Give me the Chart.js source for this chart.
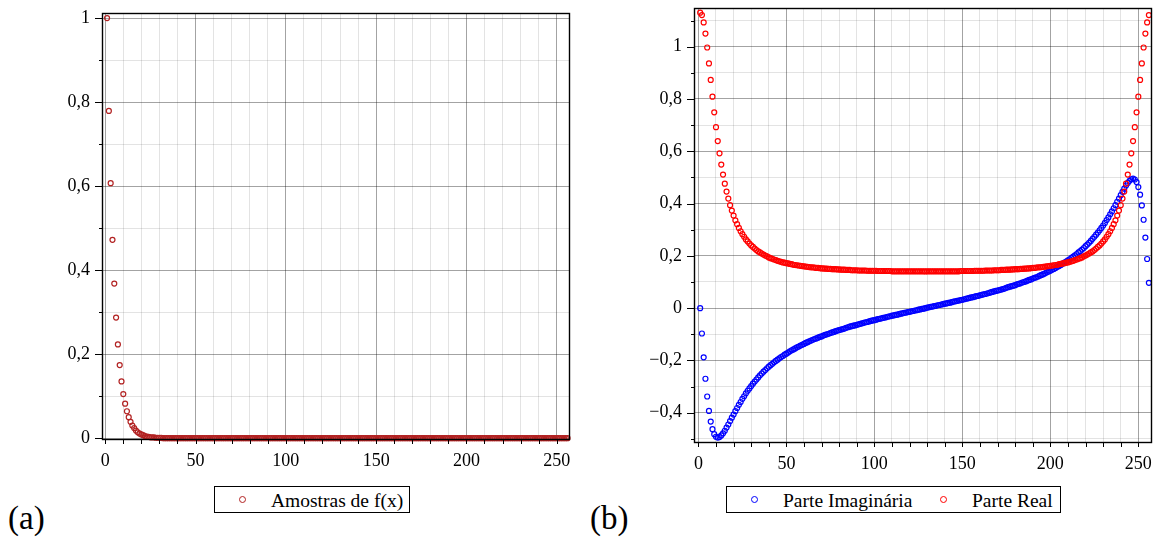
<!DOCTYPE html>
<html>
<head>
<meta charset="UTF-8">
<title>Amostras de f(x) e DFT</title>
<style>
  body { margin: 0; background: #fff; }
  .wrap { position: relative; width: 1155px; height: 539px; font-family: "Liberation Serif", serif; color: #000; }
  canvas { position: absolute; top: 0; }
  .legend { position: absolute; top: 486px; height: 27px; border: 1px solid #000; box-sizing: border-box; font-size: 19.5px; line-height: 27px; }
  .legend span { position: absolute; top: 0px; white-space: nowrap; }
  .legend i { position: absolute; top: 9px; width: 7px; height: 7px; border-radius: 50%; border: 1.2px solid; box-sizing: border-box; }
  .tag { position: absolute; top: 502px; font-size: 33px; line-height: 33px; }
</style>
<script src="https://cdn.jsdelivr.net/npm/chart.js"></script>
</head>
<body>
<div class="wrap">
  <canvas id="chartA" width="580" height="480" style="left:0"></canvas>
  <canvas id="chartB" width="575" height="480" style="left:580px"></canvas>

  <div class="legend" style="left:214px; width:196px">
    <i style="left:24px; border-color:#b22222"></i><span style="left:56px">Amostras de f(x)</span>
  </div>
  <div class="legend" style="left:726px; width:335px">
    <i style="left:24px; border-color:#0000ff"></i><span style="left:56px">Parte Imaginária</span>
    <i style="left:213px; border-color:#ff0000"></i><span style="left:245px">Parte Real</span>
  </div>
  <div class="tag" style="left:8px">(a)</div>
  <div class="tag" style="left:590px">(b)</div>
</div>

<script>
// ---- data ----
const N = 256;
// sample number 1..256
const sampleIdx = Array.from({length: N}, (_, i) => i + 1);

const amostras = [
  1.000, 0.779, 0.607, 0.472, 0.368, 0.287, 0.223, 0.174, 0.135, 0.105,
  0.082, 0.064, 0.050, 0.039, 0.030, 0.024, 0.018, 0.014, 0.011, 0.009,
  0.007, 0.005, 0.004, 0.003, 0.002, 0.002, 0.002, 0.001, 0.001, 0.001,
  0.001,
  0,0,0,0,0, 0,0,0,0,0, 0,0,0,0,0, 0,0,0,0,0, 0,0,0,0,0,
  0,0,0,0,0, 0,0,0,0,0, 0,0,0,0,0, 0,0,0,0,0, 0,0,0,0,0,
  0,0,0,0,0, 0,0,0,0,0, 0,0,0,0,0, 0,0,0,0,0, 0,0,0,0,0,
  0,0,0,0,0, 0,0,0,0,0, 0,0,0,0,0, 0,0,0,0,0, 0,0,0,0,0,
  0,0,0,0,0, 0,0,0,0,0, 0,0,0,0,0, 0,0,0,0,0, 0,0,0,0,0,
  0,0,0,0,0, 0,0,0,0,0, 0,0,0,0,0, 0,0,0,0,0, 0,0,0,0,0,
  0,0,0,0,0, 0,0,0,0,0, 0,0,0,0,0, 0,0,0,0,0, 0,0,0,0,0,
  0,0,0,0,0, 0,0,0,0,0, 0,0,0,0,0, 0,0,0,0,0, 0,0,0,0,0,
  0,0,0,0,0, 0,0,0,0,0, 0,0,0,0,0, 0,0,0,0,0, 0,0,0,0,0
];

const parteReal = [
  1.130, 1.121, 1.093, 1.050, 0.997, 0.936, 0.873, 0.809, 0.749, 0.692,
  0.639, 0.592, 0.549, 0.511, 0.476, 0.446, 0.419, 0.394, 0.373, 0.354,
  0.336, 0.321, 0.307, 0.294, 0.283, 0.273, 0.263, 0.255, 0.247, 0.240,
  0.234, 0.228, 0.222, 0.217, 0.213, 0.209, 0.205, 0.201, 0.198, 0.194,
  0.191, 0.189, 0.186, 0.184, 0.181, 0.179, 0.177, 0.175, 0.174, 0.172,
  0.171, 0.169, 0.168, 0.166, 0.165, 0.164, 0.163, 0.162, 0.161, 0.160,
  0.159, 0.158, 0.157, 0.156, 0.156, 0.155, 0.154, 0.154, 0.153, 0.152,
  0.152, 0.151, 0.151, 0.150, 0.150, 0.149, 0.149, 0.149, 0.148, 0.148,
  0.147, 0.147, 0.147, 0.146, 0.146, 0.146, 0.145, 0.145, 0.145, 0.145,
  0.144, 0.144, 0.144, 0.144, 0.144, 0.143, 0.143, 0.143, 0.143, 0.143,
  0.143, 0.142, 0.142, 0.142, 0.142, 0.142, 0.142, 0.142, 0.142, 0.141,
  0.141, 0.141, 0.141, 0.141, 0.141, 0.141, 0.141, 0.141, 0.141, 0.141,
  0.141, 0.141, 0.141, 0.141, 0.141, 0.141, 0.141, 0.141, 0.1405,
  0.141, 0.141, 0.141, 0.141, 0.141, 0.141, 0.141, 0.141, 0.141, 0.141,
  0.141, 0.141, 0.141, 0.141, 0.141, 0.141, 0.141, 0.141, 0.141, 0.142,
  0.142, 0.142, 0.142, 0.142, 0.142, 0.142, 0.142, 0.143, 0.143, 0.143,
  0.143, 0.143, 0.143, 0.144, 0.144, 0.144, 0.144, 0.144, 0.145, 0.145,
  0.145, 0.145, 0.146, 0.146, 0.146, 0.147, 0.147, 0.147, 0.148, 0.148,
  0.149, 0.149, 0.149, 0.150, 0.150, 0.151, 0.151, 0.152, 0.152, 0.153,
  0.154, 0.154, 0.155, 0.156, 0.156, 0.157, 0.158, 0.159, 0.160, 0.161,
  0.162, 0.163, 0.164, 0.165, 0.166, 0.168, 0.169, 0.171, 0.172, 0.174,
  0.175, 0.177, 0.179, 0.181, 0.184, 0.186, 0.189, 0.191, 0.194, 0.198,
  0.201, 0.205, 0.209, 0.213, 0.217, 0.222, 0.228, 0.234, 0.240, 0.247,
  0.255, 0.263, 0.273, 0.283, 0.294, 0.307, 0.321, 0.336, 0.354, 0.373,
  0.394, 0.419, 0.446, 0.476, 0.511, 0.549, 0.592, 0.639, 0.692, 0.749,
  0.809, 0.873, 0.936, 0.997, 1.050, 1.093, 1.121
];

const parteImag = [
  0, -0.097, -0.188, -0.270, -0.338, -0.393, -0.434, -0.463, -0.482, -0.492,
  -0.495, -0.493, -0.487, -0.479, -0.469, -0.457, -0.445, -0.432, -0.419, -0.407,
  -0.394, -0.382, -0.370, -0.359, -0.347, -0.337, -0.326, -0.316, -0.307, -0.298,
  -0.289, -0.281, -0.273, -0.265, -0.257, -0.250, -0.243, -0.237, -0.230, -0.224,
  -0.218, -0.213, -0.207, -0.202, -0.197, -0.192, -0.187, -0.183, -0.178, -0.174,
  -0.170, -0.165, -0.161, -0.158, -0.154, -0.150, -0.147, -0.143, -0.140, -0.137,
  -0.133, -0.130, -0.127, -0.124, -0.121, -0.118, -0.116, -0.113, -0.110, -0.108,
  -0.105, -0.102, -0.100, -0.098, -0.095, -0.093, -0.091, -0.088, -0.086, -0.084,
  -0.082, -0.080, -0.078, -0.075, -0.073, -0.071, -0.069, -0.067, -0.066, -0.064,
  -0.062, -0.060, -0.058, -0.056, -0.054, -0.053, -0.051, -0.049, -0.047, -0.046,
  -0.044, -0.042, -0.041, -0.039, -0.037, -0.036, -0.034, -0.032, -0.031, -0.029,
  -0.028, -0.026, -0.025, -0.023, -0.021, -0.020, -0.018, -0.017, -0.015, -0.014,
  -0.012, -0.011, -0.009, -0.008, -0.006, -0.005, -0.003, -0.002, 0,
  0.002, 0.003, 0.005, 0.006, 0.008, 0.009, 0.011, 0.012, 0.014, 0.015,
  0.017, 0.018, 0.020, 0.021, 0.023, 0.025, 0.026, 0.028, 0.029, 0.031,
  0.032, 0.034, 0.036, 0.037, 0.039, 0.041, 0.042, 0.044, 0.046, 0.047,
  0.049, 0.051, 0.053, 0.054, 0.056, 0.058, 0.060, 0.062, 0.064, 0.066,
  0.067, 0.069, 0.071, 0.073, 0.075, 0.078, 0.080, 0.082, 0.084, 0.086,
  0.088, 0.091, 0.093, 0.095, 0.098, 0.100, 0.102, 0.105, 0.108, 0.110,
  0.113, 0.116, 0.118, 0.121, 0.124, 0.127, 0.130, 0.133, 0.137, 0.140,
  0.143, 0.147, 0.150, 0.154, 0.158, 0.161, 0.165, 0.170, 0.174, 0.178,
  0.183, 0.187, 0.192, 0.197, 0.202, 0.207, 0.213, 0.218, 0.224, 0.230,
  0.237, 0.243, 0.250, 0.257, 0.265, 0.273, 0.281, 0.289, 0.298, 0.307,
  0.316, 0.326, 0.337, 0.347, 0.359, 0.370, 0.382, 0.394, 0.407, 0.419,
  0.432, 0.445, 0.457, 0.469, 0.479, 0.487, 0.493, 0.495, 0.492, 0.482,
  0.463, 0.434, 0.393, 0.338, 0.270, 0.188, 0.097
];

// ticks
const xTicks  = [0,10,20,30,40,50,60,70,80,90,100,110,120,130,140,150,160,170,180,190,200,210,220,230,240,250];
const xLabels = [0,50,100,150,200,250];
const yTicksA  = [0,0.1,0.2,0.3,0.4,0.5,0.6,0.7,0.8,0.9,1];
const yLabelsA = [0,0.2,0.4,0.6,0.8,1];
const yTicksB  = [-0.5,-0.4,-0.3,-0.2,-0.1,0,0.1,0.2,0.3,0.4,0.5,0.6,0.7,0.8,0.9,1,1.1];
const yLabelsB = [-0.4,-0.2,0,0.2,0.4,0.6,0.8,1];

// ---- helpers ----
const FONT = 'Liberation Serif, serif';
Chart.defaults.font.family = FONT;
Chart.defaults.color = '#000';
const MAJOR = 'rgba(0,0,0,0.36)';
const MINOR = 'rgba(0,0,0,0.11)';
const has = (arr, v) => arr.some(a => Math.abs(a - v) < 1e-6);

function fmt(v) {
  const s = String(Math.abs(Math.round(v * 10) / 10)).replace('.', ',');
  return (v < -1e-9 ? '\u2212' : '') + s;
}

function axis(min, max, ticks, labels, size, horizontal) {
  return {
    type: 'linear', min, max,
    afterBuildTicks: s => { s.ticks = ticks.map(v => ({value: v})); },
    afterFit: s => {
      if (horizontal) s.height = size; else s.width = size;
      // plot area is fixed by the layout padding, not by label overhang
      s.paddingTop = 0; s.paddingBottom = 0; s.paddingLeft = 0; s.paddingRight = 0;
    },
    grid: {
      color: c => has(labels, c.tick.value) ? MAJOR : MINOR,
      lineWidth: 1,
      drawTicks: false
    },
    border: { display: false },
    ticks: {
      autoSkip: false, maxRotation: 0, minRotation: 0,
      padding: horizontal ? 11 : 12,
      color: '#000',
      font: { family: FONT, size: 18 },
      callback: v => has(labels, v) ? fmt(v) : ''
    }
  };
}

// frame around the plot and tick marks (short for minor, long for major on y)
const frameTicks = {
  id: 'frameTicks',
  afterDraw(chart, args, opts) {
    const {ctx, chartArea: a, scales: {x, y}} = chart;
    ctx.save();
    ctx.strokeStyle = '#000';
    ctx.lineWidth = 1;
    x.ticks.forEach(t => {
      const px = Math.round(x.getPixelForValue(t.value)) + 0.5;
      ctx.beginPath(); ctx.moveTo(px, a.bottom); ctx.lineTo(px, a.bottom + 5); ctx.stroke();
    });
    y.ticks.forEach(t => {
      const py = Math.round(y.getPixelForValue(t.value)) + 0.5;
      const len = has(opts.yLabels, t.value) ? 7 : 3;
      ctx.beginPath(); ctx.moveTo(a.left, py); ctx.lineTo(a.left - len, py); ctx.stroke();
    });
    ctx.lineWidth = 1.4;
    ctx.strokeRect(Math.round(a.left) + 0.5, Math.round(a.top) + 0.5,
                   Math.round(a.right - a.left), Math.round(a.bottom - a.top));
    ctx.restore();
  }
};

function points(vals) {
  return sampleIdx.map((x, i) => ({x: x, y: vals[i]}));
}

function series(label, vals, color, order) {
  return {
    label: label,
    data: points(vals),
    order: order,
    pointStyle: 'circle',
    pointRadius: 2.5,
    pointHoverRadius: 2.5,
    borderWidth: 1.2,
    pointBorderWidth: 1.2,
    borderColor: color,
    pointBorderColor: color,
    backgroundColor: 'rgba(0,0,0,0)',
    pointBackgroundColor: 'rgba(0,0,0,0)',
    clip: 4
  };
}

const common = {
  responsive: false,
  animation: false,
  events: []
};

// (a) samples of f(x)
new Chart(document.getElementById('chartA'), {
  type: 'scatter',
  data: { datasets: [ series('Amostras de f(x)', amostras, '#b22222', 0) ] },
  options: Object.assign({}, common, {
    layout: { padding: { top: 13, right: 11, left: 0, bottom: 0 } },
    scales: {
      x: axis(-1.8, 256.8, xTicks, xLabels, 41, true),
      y: axis(-0.002, 1.012, yTicksA, yLabelsA, 102, false)
    },
    plugins: { legend: { display: false }, tooltip: { enabled: false }, frameTicks: { yLabels: yLabelsA } }
  }),
  plugins: [frameTicks]
});

// (b) real and imaginary parts
new Chart(document.getElementById('chartB'), {
  type: 'scatter',
  data: { datasets: [
    series('Parte Imaginária', parteImag, '#0000ff', 1),
    series('Parte Real', parteReal, '#ff0000', 0)
  ] },
  options: Object.assign({}, common, {
    layout: { padding: { top: 8, right: 4, left: 0, bottom: 0 } },
    scales: {
      x: axis(-2.5, 257.2, xTicks, xLabels, 38, true),
      y: axis(-0.512, 1.148, yTicksB, yLabelsB, 114, false)
    },
    plugins: { legend: { display: false }, tooltip: { enabled: false }, frameTicks: { yLabels: yLabelsB } }
  }),
  plugins: [frameTicks]
});
</script>
</body>
</html>
